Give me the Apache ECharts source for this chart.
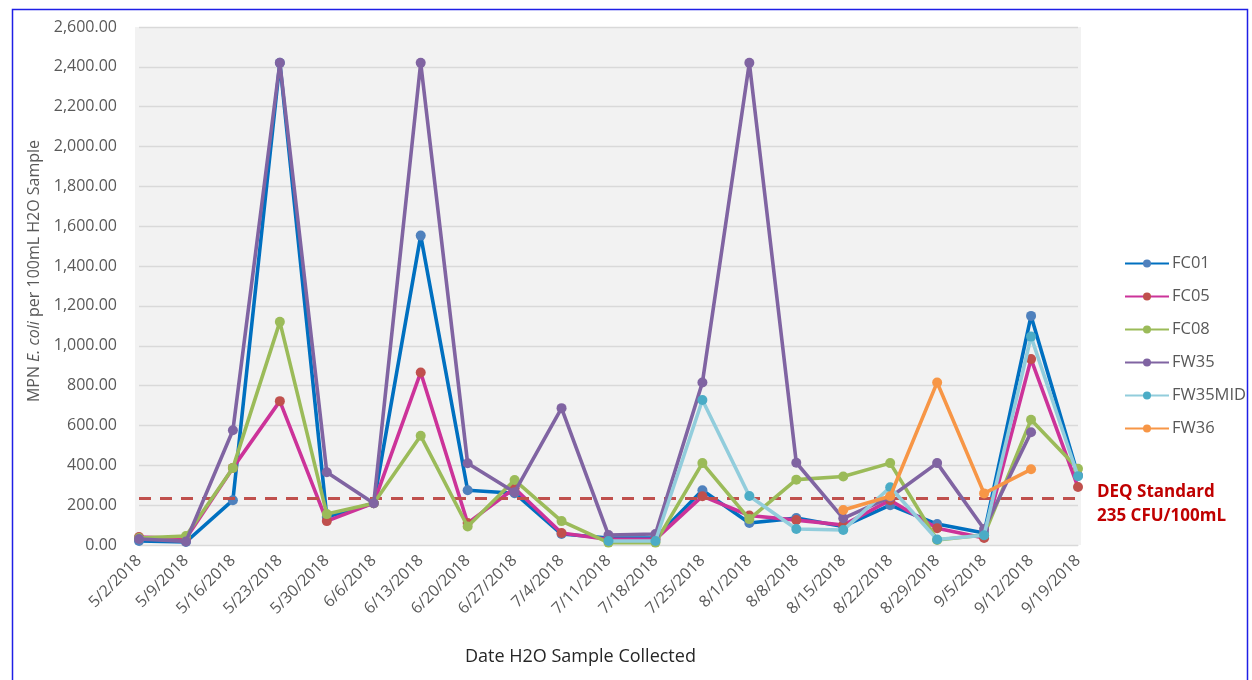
<!DOCTYPE html>
<html>
<head>
<meta charset="utf-8">
<script src="https://cdn.jsdelivr.net/npm/echarts@6/dist/echarts.min.js"></script>
<style>
  html, body { margin: 0; padding: 0; background: #fff; }
  #chart { width: 1252px; height: 680px; }
</style>
</head>
<body>
<div id="chart"></div>
<script>
// Weekly sampling dates
const dates = ['5/2/2018','5/9/2018','5/16/2018','5/23/2018','5/30/2018','6/6/2018','6/13/2018',
  '6/20/2018','6/27/2018','7/4/2018','7/11/2018','7/18/2018','7/25/2018','8/1/2018','8/8/2018',
  '8/15/2018','8/22/2018','8/29/2018','9/5/2018','9/12/2018','9/19/2018'];

// MPN E. coli per 100 mL, one array per sampling site
const fc01 = [20, 15, 225, 2420, 140, 210, 1553, 275, 260, 55, 35, 35, 275, 110, 135, 93, 200, 105, 60, 1150, 350];
const fc05 = [40, 33, 387, 722, 120, 210, 866, 110, 285, 60, 28, 28, 245, 148, 125, 100, 225, 84, 35, 933, 291];
const fc08 = [35, 45, 387, 1120, 155, 210, 548, 93, 326, 120, 12, 12, 411, 130, 328, 344, 411, 25, 50, 629, 383];
const fw35 = [30, 18, 576, 2420, 365, 210, 2420, 410, 265, 687, 50, 55, 816, 2420, 413, 134, 240, 411, 80, 566, null];
const fw35mid = [null, null, null, null, null, null, null, null, null, null, 20, 20, 728, 246, 80, 75, 290, 28, 49, 1046, 345];
const fw36 = [null, null, null, null, null, null, null, null, null, null, null, null, null, null, null, 176, 245, 816, 259, 380, null];

// State water quality standard
const deqStandard = 235;

// Y axis range
const yMin = 0, yMax = 2600, yStep = 200;

const siteNames = ['FC01', 'FC05', 'FC08', 'FW35', 'FW35MID', 'FW36'];
const siteValues = [fc01, fc05, fc08, fw35, fw35mid, fw36];
const lineColors = ['#0070C0', '#CC3399', '#9BBB59', '#8064A2', '#92CDDC', '#F79646'];
const markerColors = ['#4F81BD', '#C0504D', '#9BBB59', '#8064A2', '#4BACC6', '#F79646'];

const FONT = 'Open Sans';
const TXT = '#595959';

const chart = echarts.init(document.getElementById('chart'), null, { renderer: 'canvas' });

const series = siteNames.map((name, i) => ({
  name,
  type: 'line',
  data: siteValues[i],
  connectNulls: false,
  symbol: 'circle',
  symbolSize: 10,
  lineStyle: { color: lineColors[i], width: 3.6 },
  itemStyle: { color: markerColors[i] },
  emphasis: { disabled: true },
  z: 3 + i
}));

// Standard reference line
series[0].markLine = {
  silent: true,
  symbol: 'none',
  label: { show: false },
  lineStyle: { color: '#C0504D', type: [12, 9], width: 2.8 },
  data: [{ yAxis: deqStandard }]
};

chart.setOption({
  animation: false,
  backgroundColor: '#ffffff',
  grid: { left: 139, right: 174, top: 27, bottom: 135, containLabel: false },
  graphic: [
    { type: 'rect', left: 10, top: 7, z: 100, silent: true,
      shape: { width: 1235, height: 690 },
      style: { fill: 'none', stroke: '#1F1FE6', lineWidth: 1.5 } },
    { type: 'rect', left: 135, top: 27, z: -10, silent: true,
      shape: { width: 946, height: 518 },
      style: { fill: '#F2F2F2' } },
    { type: 'text', left: 465, top: 648, silent: true,
      style: { text: 'Date H2O Sample Collected', font: '18px "' + FONT + '"', fill: '#262626' } },
    { type: 'text', x: 34, y: 271, rotation: Math.PI / 2, silent: true,
      style: {
        text: '{n|MPN }{i|E. coli}{n| per 100mL H2O Sample}',
        align: 'center', verticalAlign: 'middle',
        rich: {
          n: { font: '16px "' + FONT + '"', fill: TXT },
          i: { font: 'italic 16px "' + FONT + '"', fill: TXT }
        }
      } },
    { type: 'text', left: 1097, top: 480, silent: true,
      style: { text: 'DEQ Standard\n235 CFU/100mL', font: 'bold 17px "' + FONT + '"',
        fill: '#C00000', lineHeight: 24 } }
  ],
  legend: {
    orient: 'vertical',
    left: 1119, top: 250,
    itemWidth: 44, itemHeight: 10,
    itemGap: 16,
    selectedMode: false,
    data: siteNames,
    textStyle: { color: TXT, fontSize: 16.5, fontFamily: FONT, padding: [0, 0, 0, -2] }
  },
  xAxis: {
    type: 'category',
    data: dates,
    boundaryGap: false,
    axisLine: { show: true, lineStyle: { color: '#D9D9D9', width: 1 } },
    axisTick: { show: false },
    axisLabel: { rotate: 45, margin: 13, color: TXT, fontSize: 16, fontFamily: FONT, interval: 0 },
    splitLine: { show: false }
  },
  yAxis: {
    type: 'value',
    min: yMin, max: yMax, interval: yStep,
    axisLine: { show: false },
    axisTick: { show: false },
    axisLabel: {
      margin: 22, color: TXT, fontSize: 16, fontFamily: FONT,
      formatter: v => v.toLocaleString('en-US', { minimumFractionDigits: 2, maximumFractionDigits: 2 })
    },
    splitLine: { lineStyle: { color: '#D9D9D9', width: 1.3 } }
  },
  series
});
</script>
</body>
</html>
